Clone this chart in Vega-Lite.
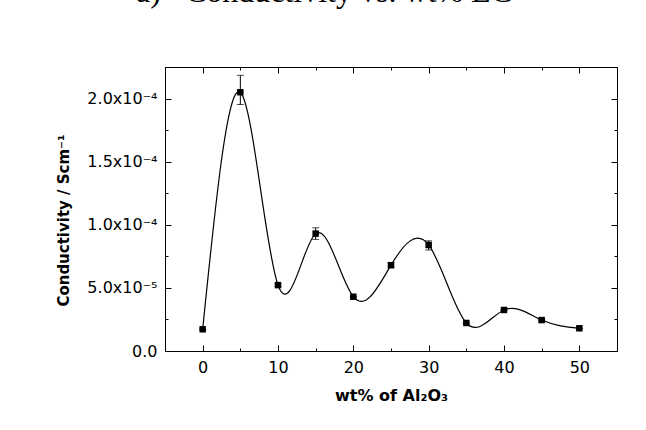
{
  "$schema": "https://vega.github.io/schema/vega-lite/v6.json",
  "width": 452,
  "height": 284,
  "autosize": {"type": "none"},
  "padding": {"left": 165, "top": 67, "right": 29, "bottom": 79},
  "background": "white",
  "title": {
    "text": "a)\u00a0\u00a0\u00a0Conductivity vs. wt% EC",
    "font": "Liberation Serif",
    "fontSize": 32,
    "fontWeight": "normal",
    "color": "black",
    "anchor": "middle",
    "frame": "group",
    "baseline": "alphabetic",
    "offset": 50,
    "dx": -67,
    "dy": 17
  },
  "config": {
    "view": {"stroke": "black", "strokeWidth": 1},
    "axis": {
      "grid": false,
      "domainColor": "black",
      "domainWidth": 1,
      "tickColor": "black",
      "tickWidth": 1,
      "labelFont": "DejaVu Sans",
      "labelFontSize": 16,
      "labelColor": "black",
      "titleFont": "DejaVu Sans",
      "titleFontSize": 16,
      "titleFontWeight": "bold",
      "titleColor": "black"
    }
  },
  "data": {
    "values": [
      {"wt": 0, "cond": 1.72e-5, "lo": 1.72e-5, "hi": 1.72e-5},
      {"wt": 5, "cond": 2.05e-4, "lo": 1.953e-4, "hi": 2.184e-4},
      {"wt": 10, "cond": 5.22e-5, "lo": 5.1e-5, "hi": 5.35e-5},
      {"wt": 15, "cond": 9.3e-5, "lo": 8.84e-5, "hi": 9.76e-5},
      {"wt": 20, "cond": 4.3e-5, "lo": 4.3e-5, "hi": 4.3e-5},
      {"wt": 25, "cond": 6.8e-5, "lo": 6.6e-5, "hi": 7.0e-5},
      {"wt": 30, "cond": 8.4e-5, "lo": 8.0e-5, "hi": 8.73e-5},
      {"wt": 35, "cond": 2.22e-5, "lo": 2.22e-5, "hi": 2.22e-5},
      {"wt": 40, "cond": 3.25e-5, "lo": 3.25e-5, "hi": 3.25e-5},
      {"wt": 45, "cond": 2.45e-5, "lo": 2.45e-5, "hi": 2.45e-5},
      {"wt": 50, "cond": 1.8e-5, "lo": 1.8e-5, "hi": 1.8e-5}
    ]
  },
  "resolve": {"axis": {"x": "independent", "y": "independent"}},
  "layer": [
    {
      "mark": {"type": "line", "interpolate": "natural", "color": "black", "strokeWidth": 1.2},
      "encoding": {
        "x": {
          "field": "wt", "type": "quantitative",
          "scale": {"domain": [-5, 55], "nice": false, "zero": false},
          "axis": {
            "orient": "bottom",
            "title": "wt% of Al₂O₃",
            "values": [0, 5, 10, 15, 20, 25, 30, 35, 40, 45, 50],
            "labelExpr": "datum.value % 10 === 0 ? datum.label : ''",
            "tickSize": {"condition": {"test": "datum.value % 10 === 0", "value": -6}, "value": -3},
            "labelPadding": 14,
            "titlePadding": 12
          }
        },
        "y": {
          "field": "cond", "type": "quantitative",
          "scale": {"domain": [0, 0.000225], "nice": false},
          "axis": {
            "orient": "left",
            "title": "Conductivity / Scm⁻¹",
            "titleFontSize": 15,
            "titleY": 153,
            "values": [0, 0.000025, 0.00005, 0.000075, 0.0001, 0.000125, 0.00015, 0.000175, 0.0002],
            "labelExpr": "['0.0', '', '5.0x10⁻⁵', '', '1.0x10⁻⁴', '', '1.5x10⁻⁴', '', '2.0x10⁻⁴'][round(datum.value / 0.000025)]",
            "tickSize": {"condition": {"test": "round(datum.value / 0.000025) % 2 === 0", "value": -6}, "value": -3},
            "labelPadding": 14,
            "titlePadding": 15
          }
        }
      }
    },
    {
      "mark": {"type": "rule", "color": "black", "strokeWidth": 1},
      "encoding": {
        "x": {"field": "wt", "type": "quantitative", "axis": null},
        "y": {"field": "lo", "type": "quantitative", "axis": null},
        "y2": {"field": "hi"}
      }
    },
    {
      "mark": {"type": "tick", "orient": "horizontal", "color": "black", "size": 7, "thickness": 1},
      "encoding": {
        "x": {"field": "wt", "type": "quantitative", "axis": null},
        "y": {"field": "lo", "type": "quantitative", "axis": null}
      }
    },
    {
      "mark": {"type": "tick", "orient": "horizontal", "color": "black", "size": 7, "thickness": 1},
      "encoding": {
        "x": {"field": "wt", "type": "quantitative", "axis": null},
        "y": {"field": "hi", "type": "quantitative", "axis": null}
      }
    },
    {
      "mark": {"type": "point", "shape": "square", "filled": true, "color": "black", "size": 42, "opacity": 1},
      "encoding": {
        "x": {
          "field": "wt", "type": "quantitative",
          "axis": {
            "orient": "top", "title": null, "labels": false,
            "values": [0, 5, 10, 15, 20, 25, 30, 35, 40, 45, 50],
            "tickSize": {"condition": {"test": "datum.value % 10 === 0", "value": -6}, "value": -3}
          }
        },
        "y": {
          "field": "cond", "type": "quantitative",
          "axis": {
            "orient": "right", "title": null, "labels": false,
            "values": [0, 0.000025, 0.00005, 0.000075, 0.0001, 0.000125, 0.00015, 0.000175, 0.0002],
            "tickSize": {"condition": {"test": "round(datum.value / 0.000025) % 2 === 0", "value": -6}, "value": -3}
          }
        }
      }
    }
  ]
}
